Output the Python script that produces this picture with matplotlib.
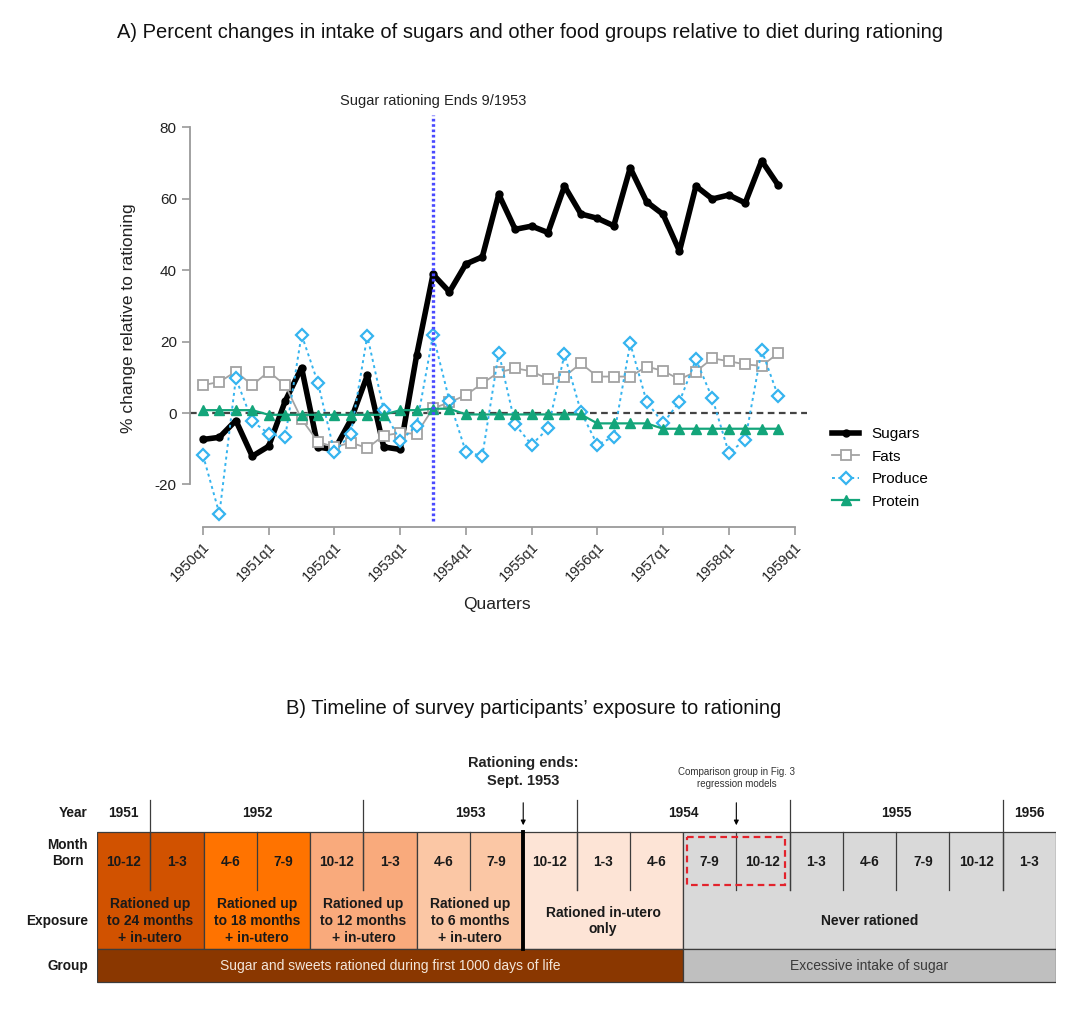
import matplotlib.pyplot as plt
from matplotlib.patches import Rectangle

plt.rcParams['font.family'] = ['Liberation Sans', 'DejaVu Sans']
plt.rcParams['axes.unicode_minus'] = False

# --- panel A data (percent change vs rationing, 1950q1 .. 1958q4)
years_a = list(range(1950, 1959))
quarters = [f'{y}q{q}' for y in years_a for q in range(1, 5)]
sugars = [-7.4, -6.8, -2.1, -12.1, -9.3, 3.3, 12.7, -9.5, -10.3, -1.9, 10.5, -9.5,
          -10.2, 16.1, 38.8, 33.9, 41.7, 43.7, 61.2, 51.4, 52.3, 50.5, 63.5, 55.7,
          54.5, 52.4, 68.6, 59.1, 55.6, 45.3, 63.5, 59.9, 61.0, 58.8, 70.6, 63.8]
fats = [7.8, 8.7, 11.6, 7.8, 11.6, 7.8, -1.7, -8.1, -9.5, -8.3, -9.8, -6.3,
        -5.6, -5.8, 1.3, 3.0, 5.0, 8.3, 11.4, 12.5, 11.7, 9.5, 10.2, 13.9,
        10.2, 10.2, 10.2, 13.0, 11.8, 9.4, 11.6, 15.3, 14.5, 13.6, 13.2, 16.7]
produce = [-11.8, -28.2, 9.7, -2.3, -5.8, -6.8, 21.9, 8.4, -11.0, -5.8, 21.6, 0.9,
           -7.9, -3.5, 21.9, 3.4, -10.9, -12.0, 16.9, -3.2, -8.9, -4.3, 16.4, 0.4,
           -8.9, -6.6, 19.5, 3.2, -2.9, 3.2, 15.0, 4.1, -11.1, -7.6, 17.6, 4.8]
protein = [0.8, 0.8, 0.8, 0.8, -0.5, -0.5, -0.5, -0.5, -0.5, -0.5, -0.5, -0.5,
           0.8, 0.8, 1.2, 1.2, -0.4, -0.4, -0.4, -0.4, -0.4, -0.4, -0.4, -0.4,
           -2.9, -2.9, -2.9, -2.9, -4.4, -4.4, -4.4, -4.4, -4.4, -4.4, -4.4, -4.4]
rationing_end = '1953q3'
tick_labels = [f'{y}q1' for y in range(1950, 1960)]

# --- panel B data
months = ['10-12', '1-3', '4-6', '7-9', '10-12', '1-3', '4-6', '7-9', '10-12',
          '1-3', '4-6', '7-9', '10-12', '1-3', '4-6', '7-9', '10-12', '1-3']
years_b = ['1951', '1952', '1953', '1954', '1955', '1956']
year_ncols = [1, 4, 4, 4, 4, 1]
exposure = ['Rationed up\nto 24 months\n+ in-utero', 'Rationed up\nto 18 months\n+ in-utero',
            'Rationed up\nto 12 months\n+ in-utero', 'Rationed up\nto 6 months\n+ in-utero',
            'Rationed in-utero\nonly', 'Never rationed']
exposure_ncols = [2, 2, 2, 2, 3, 7]
exposure_colors = ['#D15200', '#FF7300', '#F9AA7C', '#FBC7A5', '#FDE4D6', '#D9D9D9']
groups = ['Sugar and sweets rationed during first 1000 days of life', 'Excessive intake of sugar']
group_ncols = [11, 7]
group_colors = ['#8A3700', '#BFBFBF']
group_text_colors = ['#F3E6DA', '#3a3a3a']
row_labels = ['Year', 'Month\nBorn', 'Exposure', 'Group']

W, H = 1080, 1010
fig = plt.figure(figsize=(W / 100, H / 100), dpi=100)

# ================= panel A
ax = fig.add_axes([190 / W, 1 - 527 / H, (807 - 190) / W, (527 - 115) / H])
x = list(range(len(quarters)))
ax.plot(x, sugars, color='black', lw=4, marker='o', ms=5, zorder=3, label='Sugars')
ax.plot(x, fats, color='#a3a3a3', lw=1.3, marker='s', ms=7, mfc='white', mew=1.3,
        zorder=4, label='Fats')
ax.plot(x, produce, color='#35b4ef', lw=1.4, ls=(0, (1.5, 1.8)), marker='D', ms=6.5,
        mfc='white', mew=1.6, zorder=5, label='Produce')
ax.plot(x, protein, color='#13a57a', lw=1.6, marker='^', ms=7, zorder=6, label='Protein')
ax.axhline(0, color='#444444', lw=1.6, ls=(0, (3, 2)), zorder=2)
xr = quarters.index(rationing_end)
ax.axvline(xr, ymin=0.015, color='#4a4aff', lw=2.4, ls=(0, (0.8, 0.8)), zorder=7)
ax.text(xr, 87.3, 'Sugar rationing Ends 9/1953', ha='center', va='center', fontsize=10.5,
        color='#222222', clip_on=False)

ax.set_xlim(-0.79, 36.76)
ax.set_ylim(-31.9, 83.4)
ax.set_yticks([-20, 0, 20, 40, 60, 80])
ax.set_xticks(range(0, 37, 4))
ax.set_xticklabels(tick_labels, rotation=45, ha='right', rotation_mode='anchor')
for s in ['top', 'right']:
    ax.spines[s].set_visible(False)
ax.spines['left'].set_bounds(-20, 80)
ax.spines['bottom'].set_bounds(0, 36)
for s in ['left', 'bottom']:
    ax.spines[s].set_color('#9a9a9a')
    ax.spines[s].set_linewidth(1.3)
ax.tick_params(colors='#9a9a9a', labelcolor='#222222', length=6, width=1.2, labelsize=11)
ax.tick_params(axis='x', labelsize=10.5, pad=3)
ax.set_facecolor('none')

ax.legend(loc='center left', bbox_to_anchor=(818 / W, 1 - 468 / H), bbox_transform=fig.transFigure,
          frameon=False, fontsize=11, handlelength=1.8, handletextpad=0.8, labelspacing=0.55)

fig.text(128 / W, 1 - 318 / H, '% change relative to rationing', rotation=90, ha='center',
         va='center', fontsize=12.5, color='#222222')
fig.text(497 / W, 1 - 605 / H, 'Quarters', ha='center', va='center', fontsize=12.5,
         color='#222222')
fig.text(530 / W, 1 - 33 / H,
         'A) Percent changes in intake of sugars and other food groups relative to diet during rationing',
         ha='center', va='center', fontsize=14.5, color='#111111')

# ================= panel B
fig.text(534 / W, 1 - 708 / H, "B) Timeline of survey participants\u2019 exposure to rationing",
         ha='center', va='center', fontsize=14.5, color='#111111')

bx = fig.add_axes([97 / W, 0, (1056 - 97) / W, 1])
bx.set_xlim(0, len(months))
bx.set_ylim(H, 0)
bx.axis('off')

top, mid, low, bot = 832, 949, 949, 982
edge = '#3c3c3c'

# exposure blocks
start = 0
block_edges = []
for lab, n, c in zip(exposure, exposure_ncols, exposure_colors):
    bx.add_patch(Rectangle((start, top), n, mid - top, fc=c, ec=edge, lw=0.9))
    bx.text(start + n / 2, 921, lab, ha='center', va='center', fontsize=10,
            fontweight='bold', color='#1a1a1a', linespacing=1.25)
    start += n
    block_edges.append(start)

# group row
start = 0
for lab, n, c, tc in zip(groups, group_ncols, group_colors, group_text_colors):
    bx.add_patch(Rectangle((start, low), n, bot - low, fc=c, ec=edge, lw=0.9))
    bx.text(start + n / 2, 966, lab, ha='center', va='center', fontsize=10, color=tc)
    start += n

# month labels and separators
for i, m in enumerate(months):
    bx.text(i + 0.5, 862, m, ha='center', va='center', fontsize=9.8, fontweight='bold',
            color='#1a1a1a')
    if i > 0 and i not in block_edges:
        bx.plot([i, i], [top, 890], color=edge, lw=0.9)

# year labels and lines
start = 0
for i, (y, n) in enumerate(zip(years_b, year_ncols)):
    bx.text(start + n / 2, 813, y, ha='center', va='center', fontsize=9.8,
            fontweight='bold', color='#1a1a1a')
    if i > 0:
        bx.plot([start, start], [800, 890], color=edge, lw=0.9)
    start += n

# rationing end marker
end_col = sum(exposure_ncols[:4])
bx.plot([end_col, end_col], [top, mid], color='black', lw=2.8)
bx.annotate('', xy=(end_col, 828), xytext=(end_col, 800),
            arrowprops=dict(arrowstyle='-|>', color='black', lw=0.8, mutation_scale=7))
bx.text(end_col, 772, 'Rationing ends:\nSept. 1953', ha='center', va='center', fontsize=10.5,
        fontweight='bold', color='#222222', linespacing=1.3)

# comparison group
comp_col = 12
bx.add_patch(Rectangle((11.07, 837), 1.84, 48, fill=False, ec='#e3232c', lw=1.6,
                       ls=(0, (3, 2)), zorder=5))
bx.annotate('', xy=(comp_col, 828), xytext=(comp_col, 800),
            arrowprops=dict(arrowstyle='-|>', color='black', lw=0.8, mutation_scale=7))
bx.text(comp_col, 778, 'Comparison group in Fig. 3\nregression models', ha='center',
        va='center', fontsize=7, color='#333333', linespacing=1.3)

# row labels
for lab, yy in zip(row_labels, [813, 853, 921, 966]):
    bx.text(-0.17, yy, lab, ha='right', va='center', fontsize=9.8, fontweight='bold',
            color='#1a1a1a', multialignment='center', linespacing=1.25)

plt.savefig('out.png', dpi=100)
